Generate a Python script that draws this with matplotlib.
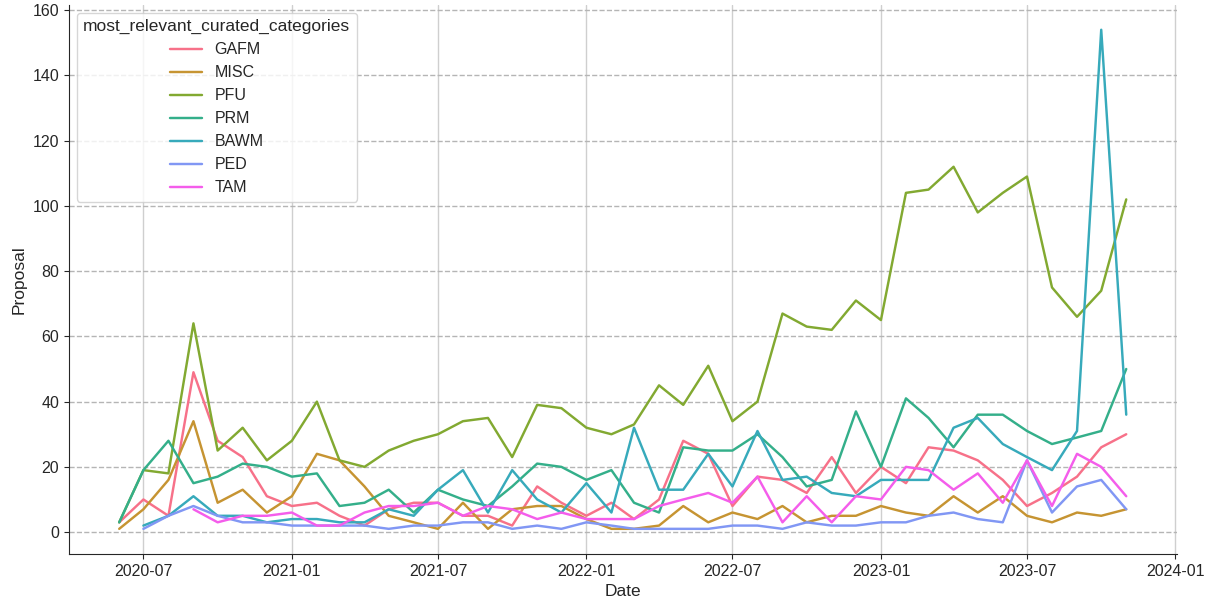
import numpy as np
import pandas as pd
import seaborn as sns
import matplotlib.pyplot as plt

# monthly proposal counts per category, 2020-06 .. 2023-11 (None = no proposals yet)
months = pd.date_range("2020-06-01", "2023-11-01", freq="MS")

gafm = [3, 10, 5, 49, 28, 23, 11,
        8, 9, 5, 2, 7, 9, 9, 5, 5, 2, 14, 9,
        5, 9, 4, 10, 28, 24, 8, 17, 16, 12, 23, 12,
        20, 15, 26, 25, 22, 16, 8, 12, 17, 26, 30]
misc = [1, 7, 16, 34, 9, 13, 6,
        11, 24, 22, 14, 5, 3, 1, 9, 1, 7, 8, 8,
        4, 1, 1, 2, 8, 3, 6, 4, 8, 3, 5, 5,
        8, 6, 5, 11, 6, 11, 5, 3, 6, 5, 7]
pfu = [3, 19, 18, 64, 25, 32, 22,
       28, 40, 22, 20, 25, 28, 30, 34, 35, 23, 39, 38,
       32, 30, 33, 45, 39, 51, 34, 40, 67, 63, 62, 71,
       65, 104, 105, 112, 98, 104, 109, 75, 66, 74, 102]
prm = [3, 19, 28, 15, 17, 21, 20,
       17, 18, 8, 9, 13, 6, 13, 10, 8, 14, 21, 20,
       16, 19, 9, 6, 26, 25, 25, 30, 23, 14, 16, 37,
       20, 41, 35, 26, 36, 36, 31, 27, 29, 31, 50]
bawm = [None, 2, 5, 11, 5, 5, 3,
        4, 4, 3, 3, 7, 5, 13, 19, 6, 19, 10, 6,
        15, 6, 32, 13, 13, 24, 14, 31, 16, 17, 12, 11,
        16, 16, 16, 32, 35, 27, 23, 19, 31, 154, 36]
ped = [None, 1, 5, 8, 5, 3, 3,
       2, 2, 2, 2, 1, 2, 2, 3, 3, 1, 2, 1,
       3, 2, 1, 1, 1, 1, 2, 2, 1, 3, 2, 2,
       3, 3, 5, 6, 4, 3, 22, 6, 14, 16, 7]
tam = [None, None, None, 7, 3, 5, 5,
       6, 2, 2, 6, 8, 8, 9, 5, 8, 7, 4, 6,
       4, 4, 4, 8, 10, 12, 9, 17, 3, 11, 3, 11,
       10, 20, 19, 13, 18, 9, 22, 8, 24, 20, 11]

categories = ["GAFM", "MISC", "PFU", "PRM", "BAWM", "PED", "TAM"]
series = [gafm, misc, pfu, prm, bawm, ped, tam]

rows = []
for cat, vals in zip(categories, series):
    for d, v in zip(months, vals):
        if v is not None:
            rows.append({"Date": d, "most_relevant_curated_categories": cat, "Proposal": v})
df = pd.DataFrame(rows)

sns.set_style("ticks")
plt.rcParams['font.family'] = ['Liberation Sans', 'DejaVu Sans']

fig, ax = plt.subplots(figsize=(12.08, 6), dpi=100)
sns.lineplot(data=df, x="Date", y="Proposal", hue="most_relevant_curated_categories",
             hue_order=categories, palette="husl", linewidth=1.75, ax=ax)

ax.grid(axis="x", color="#cfcfcf", linestyle="-", linewidth=1)
ax.grid(axis="y", color="#b5b5b5", linestyle="--", linewidth=1)
ax.set_axisbelow(True)
sns.despine(ax=ax)

ax.tick_params(labelsize=11.5)
ax.set_xlabel("Date", fontsize=12.5)
ax.set_ylabel("Proposal", fontsize=12.5)

leg = ax.legend(title="most_relevant_curated_categories", loc="upper left",
                fontsize=11.5, title_fontsize=12.5)

plt.subplots_adjust(left=0.057, right=0.974, top=0.992, bottom=0.077)
plt.savefig("out.png")
